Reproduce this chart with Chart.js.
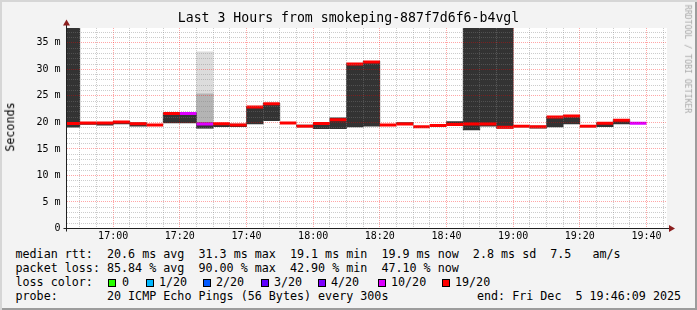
<!DOCTYPE html>
<html>
<head>
<meta charset="utf-8">
<script src="https://cdn.jsdelivr.net/npm/chart.js@4.4.1/dist/chart.umd.min.js"></script>
<style>
  body { margin: 0; }
  #wrap {
    position: relative; width: 697px; height: 310px; overflow: hidden;
    background: #f3f3f3;
    box-shadow: inset 2px 2px 0 #d6d6d6, inset -2px -2px 0 #9c9c9c;
    font-family: "DejaVu Sans Mono", monospace; color: #000;
  }
  #chart { position: absolute; left: 0; top: 0; }
  .txt { position: absolute; white-space: pre; font-size: 11.7px; line-height: 14px; }
  .title { left: 0; width: 697px; top: 10.4px; text-align: center; font-size: 13.2px; line-height: 16px; }
  .box { position: absolute; width: 8px; height: 8px; box-sizing: border-box; border: 1px solid #000; top: 279px; }
  .rot { position: absolute; white-space: pre; line-height: 1; }
</style>
</head>
<body>
<div id="wrap">
  <canvas id="chart" width="697" height="245"></canvas>
  <div class="txt title">Last 3 Hours from smokeping-887f7d6f6-b4vgl</div>
  <div class="rot" style="left:10.7px; top:127.3px; font-size:11.7px; transform:translate(-50%,-50%) rotate(-90deg);">Seconds</div>
  <div class="rot" style="left:688px; top:58.5px; font-size:8.2px; color:#a8a8a8; transform:translate(-50%,-50%) rotate(90deg);">RRDTOOL / TOBI OETIKER</div>
  <div class="txt" style="left:15.5px; top:247px;">median rtt:  20.6 ms avg  31.3 ms max  19.1 ms min  19.9 ms now  2.8 ms sd  7.5   am/s</div>
  <div class="txt" style="left:15.5px; top:261px;">packet loss: 85.84 % avg  90.00 % max  42.90 % min  47.10 % now</div>
  <div class="txt" style="left:15.5px; top:275px;">loss color:</div>
  <div id="lossLegend"></div>
  <div class="txt" style="left:15.5px; top:289px;">probe:       20 ICMP Echo Pings (56 Bytes) every 300s</div>
  <div class="txt" style="left:477px; top:289px;">end: Fri Dec  5 19:46:09 2025</div>
</div>
<script>
// 5 minute steps, labelled by their end time; values in ms
const steps = ["16:50", "16:55", "17:00", "17:05", "17:10", "17:15", "17:20", "17:25", "17:30", "17:35",
  "17:40", "17:45", "17:50", "17:55", "18:00", "18:05", "18:10", "18:15", "18:20", "18:25",
  "18:30", "18:35", "18:40", "18:45", "18:50", "18:55", "19:00", "19:05", "19:10", "19:15",
  "19:20", "19:25", "19:30", "19:35", "19:40"];
const median = [19.8, 19.9, 19.9, 20.1, 19.75, 19.5, 21.7, 21.7, 19.7, 19.75,
  19.5, 22.9, 23.5, 19.9, 19.3, 19.8, 20.5, 31.0, 31.4, 19.5,
  19.7, 19.2, 19.4, 19.6, 19.7, 19.7, 19.1, 19.3, 19.2, 21.0,
  21.2, 19.3, 19.85, 20.4, 19.85];
const lossCount = [19, 19, 19, 19, 19, 19, 19, 10, 10, 19,
  19, 19, 19, 19, 19, 19, 19, 19, 19, 19,
  19, 19, 19, 19, 19, 19, 19, 19, 19, 19,
  19, 19, 19, 19, 10];
// smoke: lowest ping and the tops of the dark, mid and light layers
const smokeLow = [19.1, 19.6, 19.5, 19.7, 19.3, null, 19.9, 19.9, 18.9, 19.2,
  19.2, 19.7, 20.35, null, 19.2, 18.8, 18.8, 19.15, 19.3, null,
  19.6, null, null, 19.5, 18.6, 19.3, 18.9, null, 18.9, 19.15,
  19.7, null, 19.2, 19.7, null];
const smokeHigh = [40, 20.0, 20.0, 20.2, 19.9, null, 21.8, 21.8, 19.9, 19.8,
  19.7, 23.0, 23.6, null, 19.5, 19.9, 20.85, 31.1, 31.5, null,
  19.95, null, null, 20.15, 40, 40, 40, null, 19.3, 21.1,
  21.3, null, 19.9, 20.5, null];
const smokeMidHigh = [null, null, null, null, null, null, null, null, 25.4, null,
  null, null, null, null, null, null, null, null, null, null,
  null, null, null, null, null, null, null, null, null, null,
  null, null, null, null, null];
const smokeLightHigh = [null, null, null, null, null, null, null, null, 33.3, null,
  null, null, null, null, null, null, null, null, null, null,
  null, null, null, null, null, null, null, null, null, null,
  null, null, null, null, null];

const xTickLabels = ["17:00", "17:20", "17:40", "18:00", "18:20", "18:40", "19:00", "19:20", "19:40"];
const yTickLabels = ["0", "5 m", "10 m", "15 m", "20 m", "25 m", "30 m", "35 m"];

const lossLabels = ["0", "1/20", "2/20", "3/20", "4/20", "10/20", "19/20"];
const lossSteps = [0, 1, 2, 3, 4, 10, 19];
const lossColors = ["#26ff00", "#00b8ff", "#0059ff", "#5e00ff", "#7e00ff", "#dd00ff", "#ff0000"];

const toMin = (t) => { const [h, m] = t.split(":").map(Number); return h * 60 + m; };
const startMin = toMin("16:46") + 9 / 60;
const endMin = toMin("19:46") + 9 / 60;
const centers = steps.map(t => toMin(t) - 2.5);
const xMajor = xTickLabels.map(toMin);
const yMajor = yTickLabels.map(l => parseFloat(l));

function lossColor(n) {
  let c = lossColors[0];
  lossSteps.forEach((s, i) => { if (n >= s) c = lossColors[i]; });
  return c;
}

const band = (top) => centers
  .map((x, i) => (top[i] == null ? null : { x, y: [smokeLow[i], top[i]] }))
  .filter(Boolean);

// half of one 5 minute step, in pixels
const halfStep = (c) => {
  const s = c.chart.scales.x;
  const v = (s.getPixelForValue(s.min + 5) - s.getPixelForValue(s.min)) / 2;
  return isFinite(v) && v > 0 ? v : 0;
};

// loss legend boxes
const boxX = [108, 146, 203, 261, 318, 378, 442];
const textX = [122, 159, 216, 274, 331, 391, 455];
const legend = document.getElementById("lossLegend");
lossLabels.forEach((l, i) => {
  const b = document.createElement("span");
  b.className = "box";
  b.style.left = boxX[i] + "px";
  b.style.background = lossColors[i];
  legend.appendChild(b);
  const t = document.createElement("span");
  t.className = "txt";
  t.style.left = textX[i] + "px";
  t.style.top = "275px";
  t.textContent = l;
  legend.appendChild(t);
});

const gridGray = "rgba(128, 128, 128, 0.4)";
const gridRed = "rgba(255, 0, 0, 0.35)";
const tickFont = { family: "DejaVu Sans Mono", size: 10 };

const frame = {
  id: "frame",
  beforeDraw(chart) {
    const { ctx, chartArea: a } = chart;
    ctx.save();
    ctx.fillStyle = "#fff";
    ctx.fillRect(a.left, a.top, a.right - a.left, a.bottom - a.top);
    ctx.restore();
  },
  afterDraw(chart) {
    const { ctx, chartArea: a } = chart;
    const ax = a.left - 0.5, ay = a.bottom;
    ctx.save();
    ctx.strokeStyle = "#202020";
    ctx.lineWidth = 1;
    ctx.beginPath();
    ctx.moveTo(ax, ay + 3); ctx.lineTo(ax, a.top - 6);
    ctx.moveTo(ax - 3, ay); ctx.lineTo(a.right + 5, ay);
    ctx.stroke();
    ctx.fillStyle = "#8b1e1e";
    ctx.beginPath();
    ctx.moveTo(ax - 3.5, a.top - 2.5); ctx.lineTo(ax + 3.5, a.top - 2.5); ctx.lineTo(ax, a.top - 8.5);
    ctx.closePath(); ctx.fill();
    ctx.beginPath();
    ctx.moveTo(a.right + 2, ay - 3.5); ctx.lineTo(a.right + 2, ay + 3.5); ctx.lineTo(a.right + 8, ay);
    ctx.closePath(); ctx.fill();
    ctx.restore();
  }
};

const barCommon = { grouped: false, barPercentage: 1, categoryPercentage: 1, borderWidth: 0, clip: 0 };

new Chart(document.getElementById("chart").getContext("2d"), {
  type: "bar",
  data: {
    datasets: [
      {
        type: "line",
        label: "median",
        data: centers.map((x, i) => ({ x, y: median[i] })),
        showLine: false,
        pointStyle: "line",
        pointRadius: halfStep,
        pointHoverRadius: halfStep,
        pointBorderWidth: 3,
        pointHoverBorderWidth: 3,
        pointBorderColor: (c) => lossColor(lossCount[c.dataIndex]),
        clip: 0,
        order: 0
      },
      { ...barCommon, label: "smoke", data: band(smokeHigh), backgroundColor: "#333333", order: 1 },
      { ...barCommon, label: "smoke mid", data: band(smokeMidHigh), backgroundColor: "#b4b4b4", order: 2 },
      { ...barCommon, label: "smoke light", data: band(smokeLightHigh), backgroundColor: "#dcdcdc", order: 3 }
    ]
  },
  options: {
    responsive: false,
    animation: false,
    devicePixelRatio: 1,
    events: [],
    layout: { autoPadding: false, padding: { left: 0, right: 30, top: 28, bottom: 0 } },
    plugins: { legend: { display: false }, tooltip: { enabled: false } },
    scales: {
      x: {
        type: "linear",
        min: startMin,
        max: endMin,
        offset: false,
        grid: {
          offset: false,
          drawTicks: false,
          z: 1,
          color: (c) => (c.tick && xMajor.includes(c.tick.value) ? gridRed : gridGray)
        },
        border: { display: false, dash: [1, 1] },
        afterBuildTicks: (axis) => {
          const t = [];
          for (let v = Math.ceil(startMin / 5) * 5; v <= endMin; v += 5) t.push({ value: v });
          axis.ticks = t;
        },
        afterFit: (s) => { s.height = 16.5; },
        ticks: {
          autoSkip: false, maxRotation: 0, minRotation: 0, padding: 1.5,
          font: tickFont, color: "#000",
          callback: (v) => { const i = xMajor.indexOf(v); return i >= 0 ? xTickLabels[i] : ""; }
        }
      },
      y: {
        min: 0,
        max: 37.8,
        grid: {
          drawTicks: false,
          z: 1,
          color: (c) => (c.tick && yMajor.includes(c.tick.value) ? gridRed : gridGray)
        },
        border: { display: false, dash: [1, 1] },
        afterBuildTicks: (axis) => {
          const t = [];
          for (let v = 0; v <= 37; v++) t.push({ value: v });
          axis.ticks = t;
        },
        afterFit: (s) => { s.width = 67; },
        ticks: {
          autoSkip: false, padding: 6.5,
          font: tickFont, color: "#000",
          callback: (v) => { const i = yMajor.indexOf(v); return i >= 0 ? yTickLabels[i] : ""; }
        }
      }
    }
  },
  plugins: [frame]
});
</script>
</body>
</html>
